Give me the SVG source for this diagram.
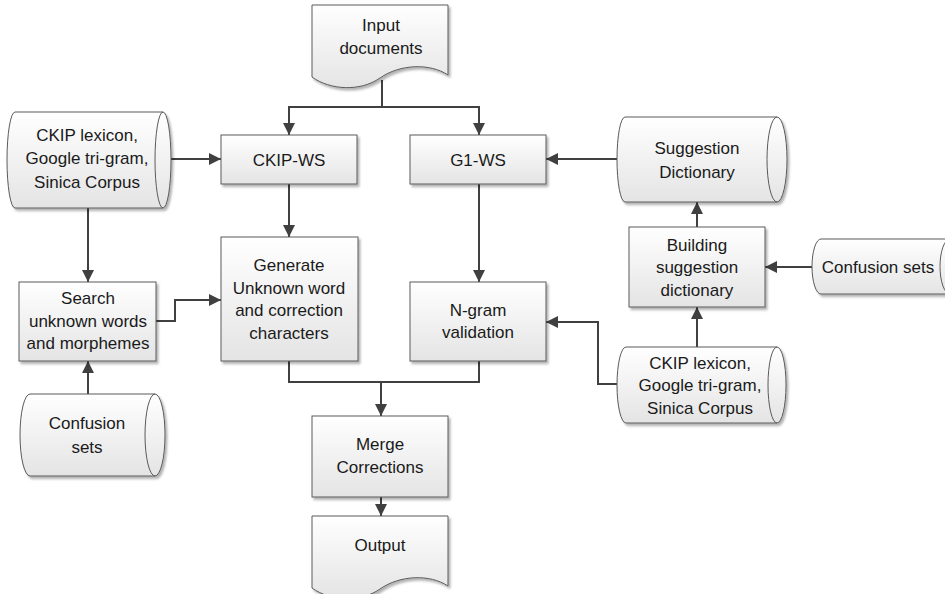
<svg xmlns="http://www.w3.org/2000/svg" width="945" height="594" viewBox="0 0 945 594">
<defs>
<linearGradient id="g" x1="0" y1="0" x2="0" y2="1">
<stop offset="0" stop-color="#ffffff"/>
<stop offset="1" stop-color="#e4e4e4"/>
</linearGradient>
<filter id="sh" x="-10%" y="-10%" width="130%" height="130%">
<feDropShadow dx="2" dy="2.5" stdDeviation="1.3" flood-color="#000" flood-opacity="0.3"/>
</filter>
<marker id="ah" markerUnits="userSpaceOnUse" markerWidth="12" markerHeight="12" refX="12" refY="6" orient="auto">
<path d="M0,0 L12,6 L0,12 z" fill="#404040"/>
</marker>
</defs>
<style>
.s{fill:url(#g);stroke:#5a5a5a;stroke-width:1;filter:url(#sh)}
.i{fill:none;stroke:#5a5a5a;stroke-width:1}
.c{fill:none;stroke:#404040;stroke-width:2;marker-end:url(#ah)}
.l{fill:none;stroke:#404040;stroke-width:2}
text{font-family:"Liberation Sans",Arial,sans-serif;font-size:17px;fill:#1a1a1a;text-anchor:middle}
</style>

<g id="connectors">
<path class="c" d="M382,80 V107 H289 V135"/>
<path class="c" d="M382,107 H479 V135"/>
<path class="c" d="M166,159 H221"/>
<path class="c" d="M617,159 H546"/>
<path class="c" d="M289,184 V237"/>
<path class="c" d="M479,184 V282"/>
<path class="c" d="M88,208 V282"/>
<path class="c" d="M88,394 V361"/>
<path class="c" d="M156,321 H175 V300 H221"/>
<path class="c" d="M697,227 V202"/>
<path class="c" d="M812,267 H765"/>
<path class="c" d="M697,347 V307"/>
<path class="c" d="M618,384 H598 V322 H546"/>
<path class="c" d="M289,361 V382 H381 V416"/>
<path class="l" d="M479,361 V382 H381"/>
<path class="c" d="M381,497 V516"/>
</g>

<g id="input-documents">
<path class="s" d="M312,5 H448 V75 C430,63 400,64 380,78 C360,92 330,90 312,77 Z"/>
<text x="381" y="31">Input</text>
<text x="381" y="54">documents</text>
</g>

<g id="ckip-ws">
<rect class="s" x="221" y="135" width="136" height="49"/>
<text x="289" y="166">CKIP-WS</text>
</g>

<g id="g1-ws">
<rect class="s" x="410" y="135" width="136" height="49"/>
<text x="478" y="166">G1-WS</text>
</g>

<g id="ckip-lexicon-left">
<path class="s" d="M15,112 H163 A8,48 0 0 1 163,208 H15 A8,48 0 0 1 15,112 Z"/>
<path class="i" d="M163,112 A8,48 0 0 0 163,208"/>
<text x="87" y="141">CKIP lexicon,</text>
<text x="87" y="164">Google tri-gram,</text>
<text x="87" y="188">Sinica Corpus</text>
</g>

<g id="suggestion-dictionary">
<path class="s" d="M625,117 H777 A10,42.5 0 0 1 777,202 H625 A8,42.5 0 0 1 625,117 Z"/>
<path class="i" d="M777,117 A10,42.5 0 0 0 777,202"/>
<text x="697" y="154">Suggestion</text>
<text x="697" y="178">Dictionary</text>
</g>

<g id="building-suggestion-dictionary">
<rect class="s" x="629" y="227" width="136" height="80"/>
<text x="697" y="251">Building</text>
<text x="697" y="273">suggestion</text>
<text x="697" y="296">dictionary</text>
</g>

<g id="confusion-sets-right">
<path class="s" d="M821,239 H950 A10,27.5 0 0 1 950,294 H821 A9,27.5 0 0 1 821,239 Z"/>
<path class="i" d="M950,239 A10,27.5 0 0 0 950,294"/>
<text x="878" y="273">Confusion sets</text>
</g>

<g id="search-unknown-words">
<rect class="s" x="19" y="282" width="137" height="79"/>
<text x="88" y="304">Search</text>
<text x="88" y="327">unknown words</text>
<text x="88" y="349">and morphemes</text>
</g>

<g id="generate-unknown-word">
<rect class="s" x="221" y="237" width="137" height="124"/>
<text x="289" y="271">Generate</text>
<text x="289" y="294">Unknown word</text>
<text x="289" y="316">and correction</text>
<text x="289" y="339">characters</text>
</g>

<g id="n-gram-validation">
<rect class="s" x="410" y="282" width="136" height="79"/>
<text x="478" y="316">N-gram</text>
<text x="478" y="338">validation</text>
</g>

<g id="ckip-lexicon-right">
<path class="s" d="M626,347 H777 A9,38 0 0 1 777,423 H626 A9,38 0 0 1 626,347 Z"/>
<path class="i" d="M777,347 A9,38 0 0 0 777,423"/>
<text x="700" y="369">CKIP lexicon,</text>
<text x="700" y="391">Google tri-gram,</text>
<text x="700" y="414">Sinica Corpus</text>
</g>

<g id="confusion-sets-left">
<path class="s" d="M30,394 H155 A10,41 0 0 1 155,476 H30 A10,41 0 0 1 30,394 Z"/>
<path class="i" d="M155,394 A10,41 0 0 0 155,476"/>
<text x="87" y="429">Confusion</text>
<text x="87" y="453">sets</text>
</g>

<g id="merge-corrections">
<rect class="s" x="312" y="416" width="136" height="81"/>
<text x="380" y="450">Merge</text>
<text x="380" y="473">Corrections</text>
</g>

<g id="output">
<path class="s" d="M312,516 H448 V586 C430,574 400,575 380,589 C360,603 330,601 312,588 Z"/>
<text x="380" y="551">Output</text>
</g>
</svg>
